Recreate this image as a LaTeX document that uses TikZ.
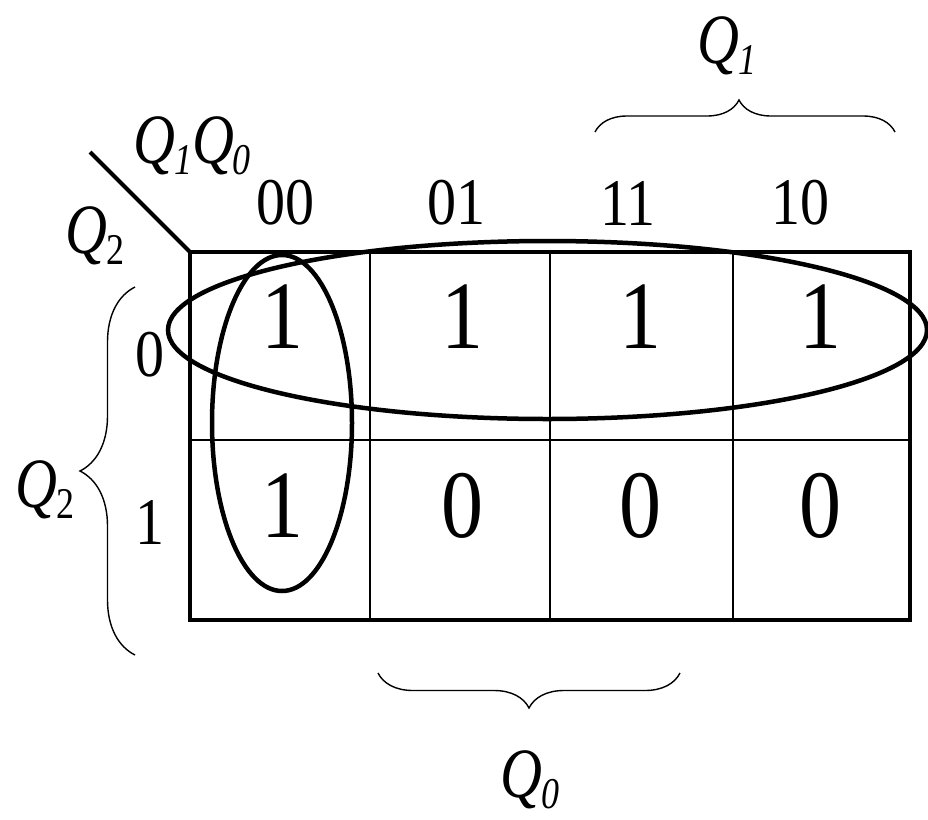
\documentclass[tikz,border=0pt]{standalone}
\usepackage{fontspec}
\usepackage{graphicx}
\setmainfont{Liberation Serif}
\usetikzlibrary{decorations.pathreplacing}
\newcommand{\Qsub}[1]{\textit{Q}\kern-0.02em\raisebox{-0.32ex}{\scalebox{0.62}{#1}}}
\newcommand{\tallA}[1]{\scalebox{1}[1.15]{#1}}
\newcommand{\tallB}[1]{\scalebox{1}[1.22]{#1}}
\begin{document}
\begin{tikzpicture}[x=1pt,y=-1pt,
  hdr/.style={font=\fontsize{58}{60}\selectfont, inner sep=0pt},
  val/.style={font=\fontsize{84}{90}\selectfont, inner sep=0pt},
  qlab/.style={font=\fontsize{58}{62}\selectfont, inner sep=0pt},
  thick box/.style={line width=4.8pt},
  thin grid/.style={line width=1.5pt},
  loop/.style={line width=4.5pt},
  brc/.style={line width=1.4pt, decorate}]
\useasboundingbox (0,0) rectangle (928,819);
% grid
\draw[thin grid] (370,252) -- (370,620) (550,252) -- (550,620) (733,252) -- (733,620) (190,440) -- (910,440);
\draw[thick box] (190,252) rectangle (910,620);
\coordinate (corner) at (190,252);
\coordinate (diagend) at (90,152);
\draw[line width=4pt] (corner) -- (diagend);
% labels
\node[qlab] (q1q0) at (192,146) {\tallB{\Qsub{\textit{1}}\Qsub{\textit{0}}}};
\node[qlab] (q2a) at (95,236) {\tallB{\Qsub{2}}};
\node[hdr] (c00) at (285,203) {\tallA{00}};
\node[hdr] (c01) at (456,203) {\tallA{01}};
\node[hdr] (c11) at (628,203) {\tallA{11}};
\node[hdr] (c10) at (800,203) {\tallA{10}};
\node[hdr] (r0) at (150,355) {\tallA{0}};
\node[hdr] (r1) at (150,522) {\tallA{1}};
% values
\node[val] (v00) at (282,317) {\tallA{1}};
\node[val] (v01) at (462,317) {\tallA{1}};
\node[val] (v11) at (640,317) {\tallA{1}};
\node[val] (v10) at (820,317) {\tallA{1}};
\node[val] (w00) at (282,506) {\tallA{1}};
\node[val] (w01) at (462,506) {\tallA{0}};
\node[val] (w11) at (640,506) {\tallA{0}};
\node[val] (w10) at (820,506) {\tallA{0}};
% loops
\draw[loop] (547.5,330) ellipse [x radius=379.5, y radius=89];
\draw[loop] (282,423) ellipse [x radius=70, y radius=168];
% braces
\coordinate (tbl) at (595,132);
\coordinate (tbr) at (895,132);
\draw[brc, decoration={brace, amplitude=32pt, aspect=0.48}] (tbl) -- (tbr);
\node[qlab] (q1) at (727,46) {\tallB{\Qsub{\textit{1}}}};
\coordinate (bbl) at (378,673);
\coordinate (bbr) at (680,673);
\draw[brc, decoration={brace, mirror, amplitude=35pt}] (bbl) -- (bbr);
\node[qlab] (q0) at (530,780) {\tallB{\Qsub{\textit{0}}}};
\coordinate (lbb) at (135,655);
\coordinate (lbt) at (135,287);
\draw[brc, decoration={brace, amplitude=55pt}] (lbb) -- (lbt);
\node[qlab] (q2b) at (45,490) {\tallB{\Qsub{2}}};
\end{tikzpicture}
\end{document}
